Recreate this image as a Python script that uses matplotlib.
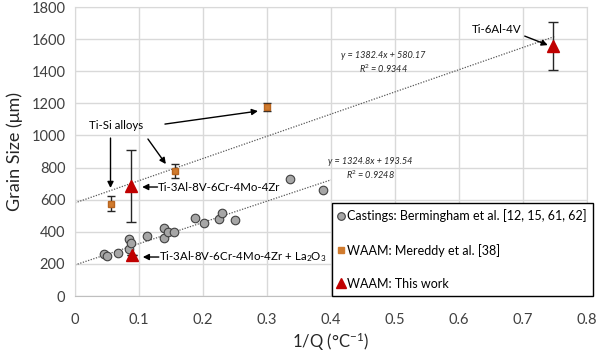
import numpy as np
import matplotlib
matplotlib.use("Agg")
import matplotlib.pyplot as plt
from matplotlib.lines import Line2D

plt.rcParams["font.family"] = ["Lato", "DejaVu Sans"]
plt.rcParams["mathtext.fontset"] = "custom"
plt.rcParams["mathtext.rm"] = "Lato"
plt.rcParams["mathtext.it"] = "Lato:italic"

# ── 数据 ──────────────────────────────────────────
cast_x = [0.046, 0.050, 0.067, 0.084, 0.085, 0.0875, 0.112, 0.139, 0.139, 0.146,
          0.155, 0.188, 0.202, 0.225, 0.229, 0.250, 0.336, 0.388]
cast_y = [260, 247, 266, 295, 355, 330, 375, 423, 363, 400,
          400, 484, 453, 479, 515, 471, 727, 660]

mer_x = [0.056, 0.156, 0.300]
mer_y = [575, 780, 1175]
mer_err = [45, 43, 25]

work_x = [0.0875, 0.0885, 0.747]
work_y = [687, 255, 1555]
work_err = [224, 0, 150]

fit1 = (1382.4, 580.17, 0.9344)   # 上方趋势线
fit1_range = (0.0, 0.75)
fit2 = (1324.8, 193.54, 0.9248)   # 下方趋势线
fit2_range = (0.0, 0.40)

labels = ["Castings: Bermingham et al. [12, 15, 61, 62]",
          "WAAM: Mereddy et al. [38]",
          "WAAM: This work"]

fig = plt.figure(figsize=(6.0, 3.52), dpi=100)
ax = fig.add_axes([0.125, 0.159, 0.853, 0.821])

grid_c = "#d9d9d9"
c_cast, c_mer, c_work = "#a6a6a6", "#d07b2e", "#c00000"
ax.set_xlim(0, 0.8)
ax.set_ylim(0, 1800)
ax.set_xticks(np.arange(0, 0.81, 0.1))
ax.set_xticklabels(["0", "0.1", "0.2", "0.3", "0.4", "0.5", "0.6", "0.7", "0.8"])
ax.set_yticks(np.arange(0, 1801, 200))
ax.grid(True, color=grid_c, linewidth=1)
ax.set_axisbelow(True)
for s in ax.spines.values():
    s.set_color(grid_c)
ax.spines["bottom"].set_color("#bfbfbf")
ax.tick_params(length=0, labelsize=10.5, colors="#404040")
ax.tick_params(axis="x", pad=12)
ax.tick_params(axis="y", pad=7)

# ── 趋势线 ──
for (k, b, r2), (x0, x1) in [(fit1, fit1_range), (fit2, fit2_range)]:
    xs = np.array([x0, x1])
    ax.plot(xs, k * xs + b, linestyle=(0, (1, 1.2)), color="#595959", linewidth=0.9, zorder=2)

# ── 散点 ──
ax.scatter(cast_x, cast_y, s=38, marker="o", facecolor=c_cast,
           edgecolor="#404040", linewidth=0.8, zorder=4)
ax.errorbar(mer_x, mer_y, yerr=mer_err, fmt="s", markersize=4.8, color=c_mer,
            mec="#b8651f", ecolor="#262626", elinewidth=1, capsize=3, capthick=1,
            zorder=4)
ax.errorbar(work_x, work_y, yerr=work_err, fmt="^", markersize=8.5, color=c_work,
            ecolor="#262626", elinewidth=1, capsize=3.5, capthick=1, zorder=5)

# ── 拟合公式 ──
eq_kw = dict(fontsize=6.6, style="italic", ha="center", va="center", color="#262626")
ax.text(0.482, 1500, "y = 1382.4x + 580.17", **eq_kw)
ax.text(0.482, 1415, "R$^2$ = 0.9344", **eq_kw)
ax.text(0.462, 838, "y = 1324.8x + 193.54", **eq_kw)
ax.text(0.462, 758, "R$^2$ = 0.9248", **eq_kw)

# ── 标注 ──
arr = dict(arrowstyle="-|>", color="black", lw=1, mutation_scale=9, shrinkA=0, shrinkB=0)
fs_ann = 8.3
ax.text(0.659, 1663, "Ti-6Al-4V", fontsize=fs_ann, ha="center", va="center")
ax.annotate("", xy=(0.739, 1563), xytext=(0.703, 1619), arrowprops=arr)

ax.text(0.064, 1065, "Ti-Si alloys", fontsize=fs_ann, ha="center", va="center")
ax.annotate("", xy=(0.286, 1152), xytext=(0.1406, 1071), arrowprops=arr)
ax.annotate("", xy=(0.142, 822), xytext=(0.114, 978), arrowprops=arr)
ax.annotate("", xy=(0.0555, 673), xytext=(0.0555, 984), arrowprops=arr)

ax.annotate("", xy=(0.105, 679), xytext=(0.129, 679), arrowprops=arr)
ax.text(0.130, 679, "Ti-3Al-8V-6Cr-4Mo-4Zr", fontsize=fs_ann, ha="left", va="center")
ax.annotate("", xy=(0.106, 243), xytext=(0.131, 243), arrowprops=arr)
ax.text(0.132, 243, "Ti-3Al-8V-6Cr-4Mo-4Zr + La$_2$O$_3$", fontsize=fs_ann,
        ha="left", va="center")

ax.set_xlabel("1/Q (°C$^{-1}$)", fontsize=12, color="#262626", labelpad=3)
ax.set_ylabel("Grain Size (μm)", fontsize=13, color="#262626", labelpad=6)

# ── 图例 ──
handles = [
    Line2D([], [], linestyle="none", marker="o", markersize=5.5, markerfacecolor=c_cast,
           markeredgecolor="#404040", markeredgewidth=0.8),
    Line2D([], [], linestyle="none", marker="s", markersize=4, color=c_mer),
    Line2D([], [], linestyle="none", marker="^", markersize=7, color=c_work),
]
leg = ax.legend(handles, labels, loc="lower right", bbox_to_anchor=(1.012, 0.0),
                borderaxespad=0, fontsize=9, labelspacing=1.7, handletextpad=0.2,
                handlelength=0.5, borderpad=0.5, fancybox=False, framealpha=1,
                edgecolor="black")
leg.get_frame().set_linewidth(1.0)
leg.set_zorder(10)

fig.savefig("out.png", dpi=100)
